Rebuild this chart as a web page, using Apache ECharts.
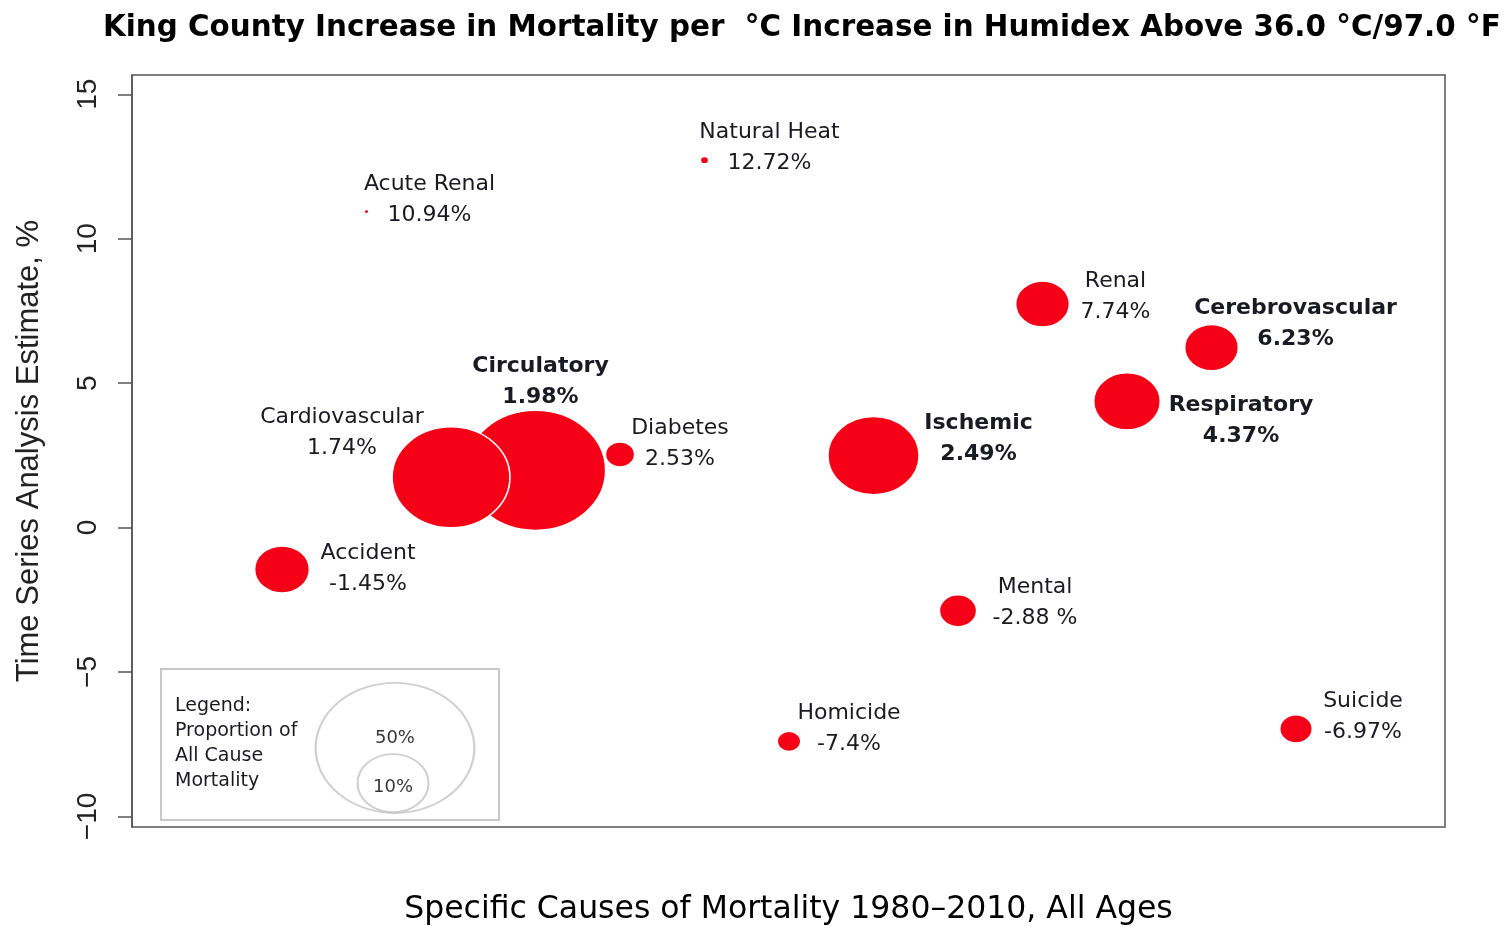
<!DOCTYPE html>
<html lang="en">
  <head>
    <meta charset="UTF-8" />
    <title>King County Mortality per Humidex</title>
    <script src="https://cdn.jsdelivr.net/npm/echarts@6/dist/echarts.min.js"></script>
    <style>
      html, body { margin: 0; padding: 0; background: #fff; }
      #main { width: 1507px; height: 926px; }
    </style>
  </head>
  <body>
    <div id="main"></div>
    <script type="text/javascript">
      // causes, left to right (slot 1..13)
      var causes = ["Accident", "Acute Renal", "Cardiovascular", "Circulatory", "Diabetes", "Natural Heat",
        "Homicide", "Ischemic", "Mental", "Renal", "Respiratory", "Cerebrovascular", "Suicide"];
      // % increase in mortality per degree C
      var estimates = [-1.45, 10.94, 1.74, 1.98, 2.53, 12.72, -7.4, 2.49, -2.88, 7.74, 4.37, 6.23, -6.97];
      var estimateLabels = ["-1.45%", "10.94%", "1.74%", "1.98%", "2.53%", "12.72%", "-7.4%", "2.49%",
        "-2.88 %", "7.74%", "4.37%", "6.23%", "-6.97%"];
      // proportion of all cause mortality, % (bubble area)
      var proportions = [6.5, 0.05, 30, 42.5, 1.85, 0.15, 1.2, 18, 3.0, 6.25, 9.6, 6.25, 2.3];
      var boldCauses = ["Circulatory", "Ischemic", "Respiratory", "Cerebrovascular"];
      var yTicks = [-10, -5, 0, 5, 10, 15];
      var legendProps = [50, 10];

      // label offsets from bubble centre, px
      var labelOffsets = {
        "Accident": [86, -1], "Acute Renal": [63, -12], "Cardiovascular": [-109, -45],
        "Circulatory": [5, -89], "Diabetes": [60, -11], "Natural Heat": [65, -12],
        "Homicide": [60, -13], "Ischemic": [105, -17], "Mental": [77, -8],
        "Renal": [73, -7], "Respiratory": [114, 19], "Cerebrovascular": [84, -24], "Suicide": [67, -12]
      };

      var ELLIPSE = "path://M0,50 A50,50 0 1,1 100,50 A50,50 0 1,1 0,50 Z";
      var K = 18.4;      // px of diameter per sqrt(%)
      function bubbleSize(p, stretch) {
        var h = K * Math.sqrt(p);
        return [h * (stretch || 1.17), h];
      }

      var points = causes.map(function (c, i) {
        return {
          name: c,
          value: [i + 1, estimates[i], proportions[i]],
          symbolSize: bubbleSize(proportions[i]),
          label: {
            formatter: c + "\n" + estimateLabels[i],
            offset: labelOffsets[c],
            fontWeight: boldCauses.indexOf(c) >= 0 ? "bold" : "normal"
          }
        };
      });
      // big ones first so the smaller overlap on top
      points.sort(function (a, b) { return b.value[2] - a.value[2]; });

      var myChart = echarts.init(document.getElementById("main"));
      var option = {
        animation: false,
        title: {
          text: "King County Increase in Mortality per  \u00b0C Increase in Humidex Above 36.0 \u00b0C/97.0 \u00b0F",
          left: 98,
          top: 9,
          textStyle: { fontFamily: "DejaVu Sans", fontSize: 29.4, fontWeight: "bold", color: "#000" }
        },
        grid: {
          left: 132, top: 75, width: 1313, height: 752,
          outerBoundsMode: "none",
          containLabel: false,
          show: true, borderColor: "#555", borderWidth: 1.5, backgroundColor: "transparent"
        },
        xAxis: {
          type: "value",
          min: -0.775,
          max: 14.763,
          name: "Specific Causes of Mortality 1980\u20132010, All Ages",
          nameLocation: "middle",
          nameGap: 67,
          nameTextStyle: { fontFamily: "DejaVu Sans", fontSize: 31.5, color: "#000" },
          axisLine: { show: false },
          axisTick: { show: false },
          axisLabel: { show: false },
          splitLine: { show: false }
        },
        yAxis: {
          type: "value",
          min: -10.367,
          max: 15.668,
          name: "Time Series Analysis Estimate, %",
          nameLocation: "middle",
          nameGap: 87,
          nameTextStyle: { fontFamily: "Liberation Sans", fontSize: 31, color: "#222" },
          axisLine: { show: true, onZero: false, lineStyle: { color: "#555", width: 1.5 } },
          axisTick: { show: true, length: 14, inside: false, customValues: yTicks, lineStyle: { color: "#555", width: 1.5 } },
          axisLabel: {
            rotate: 90,
            margin: 30,
            fontFamily: "Liberation Sans",
            fontSize: 28,
            color: "#222",
            customValues: yTicks,
            formatter: function (v) { return String(v).replace("-", "\u2212"); }
          },
          splitLine: { show: false }
        },
        series: [
          {
            type: "scatter",
            symbol: ELLIPSE,
            data: points,
            itemStyle: { color: "#f50016", borderColor: "#fff", borderWidth: 1.5, opacity: 1 },
            label: {
              show: true,
              position: "inside",
              align: "center",
              verticalAlign: "middle",
              fontFamily: "DejaVu Sans",
              fontSize: 22,
              lineHeight: 31,
              color: "#1a1a22"
            },
            emphasis: { disabled: true }
          },
          {
            // legend circles
            type: "scatter",
            symbol: ELLIPSE,
            silent: true,
            z: 3,
            data: legendProps.map(function (p, i) {
              return {
                value: [i === 0 ? 2.337 : 2.314, i === 0 ? -7.63 : -8.85],
                symbolSize: bubbleSize(p, 1.22),
                label: { formatter: p + "%", offset: i === 0 ? [0, -10] : [0, 4] }
              };
            }),
            itemStyle: { color: "rgba(0,0,0,0)", borderColor: "#c4c4c4", borderWidth: 2 },
            label: {
              show: true,
              position: "inside",
              fontFamily: "DejaVu Sans",
              fontSize: 18,
              color: "#000",
              textBorderWidth: 0
            },
            emphasis: { disabled: true }
          }
        ],
        graphic: [
          {
            type: "rect",
            shape: { x: 161, y: 669, width: 338, height: 151 },
            style: { fill: "#fff", stroke: "#c8c8c8", lineWidth: 2 },
            z: 1
          },
          {
            type: "text",
            left: 175,
            top: 694,
            z: 2,
            style: {
              text: "Legend:\nProportion of\nAll Cause\nMortality",
              font: "19px 'DejaVu Sans'",
              lineHeight: 25,
              fill: "#1a1a22"
            }
          }
        ]
      };
      myChart.setOption(option);
    </script>
  </body>
</html>
